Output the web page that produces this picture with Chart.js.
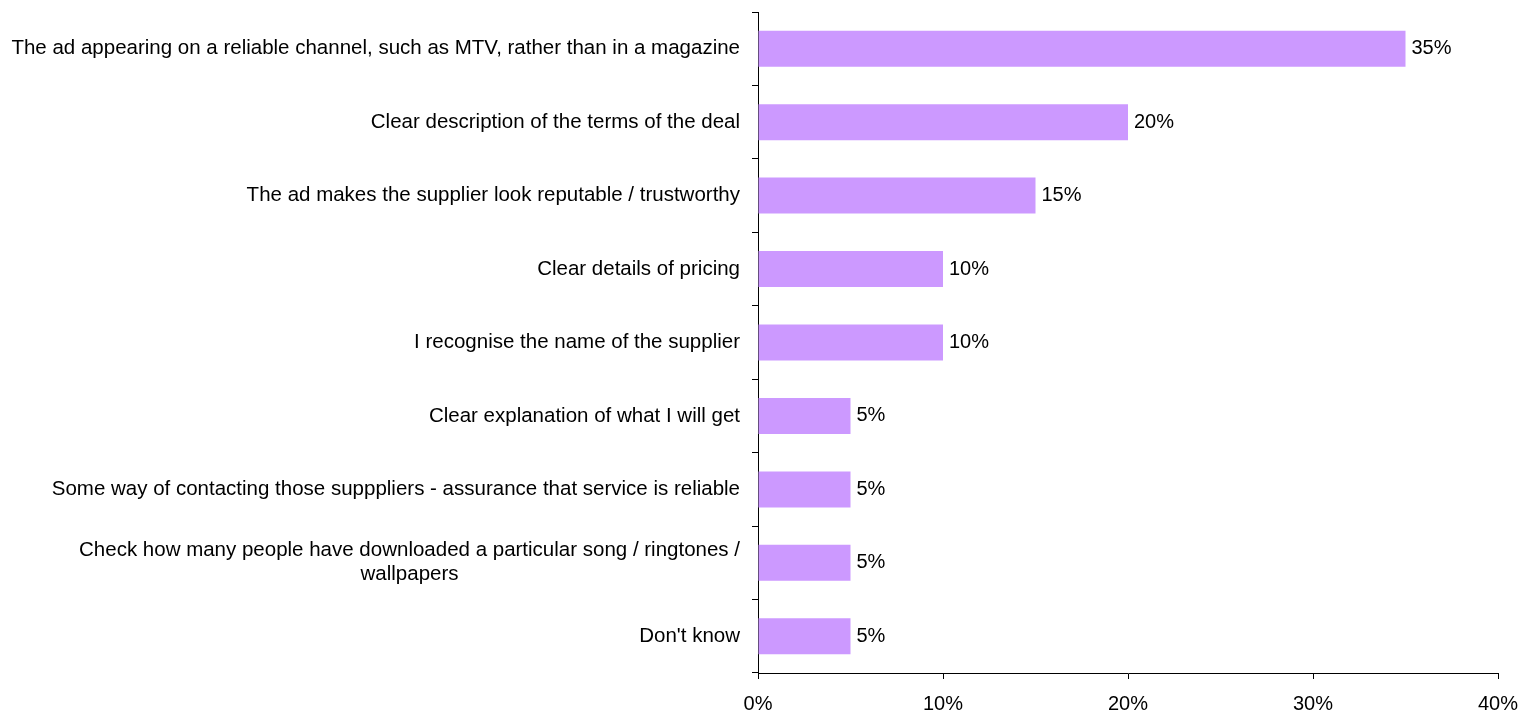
<!DOCTYPE html>
<html><head><meta charset="utf-8">
<script src="https://cdn.jsdelivr.net/npm/chart.js@4/dist/chart.umd.min.js"></script>
<style>html,body{margin:0;padding:0;background:#fff}#wrap{width:1522px;height:713px}</style>
</head><body><div id="wrap"><canvas id="c" width="1522" height="713"></canvas></div>
<script>
const categories = [
  ["The ad appearing on a reliable channel, such as MTV, rather than in a magazine"],
  ["Clear description of the terms of the deal"],
  ["The ad makes the supplier look reputable / trustworthy"],
  ["Clear details of pricing"],
  ["I recognise the name of the supplier"],
  ["Clear explanation of what I will get"],
  ["Some way of contacting those supppliers - assurance that service is reliable"],
  ["Check how many people have downloaded a particular song / ringtones /", "wallpapers"],
  ["Don't know"]
];
const values = [35, 20, 15, 10, 10, 5, 5, 5, 5];
const xTicks = [0, 10, 20, 30, 40];

const FONT = '"Liberation Sans", Arial, sans-serif';
const AXIS_X = 758;

const labelPlugin = {
  id: 'labels',
  afterDraw(chart) {
    const ctx = chart.ctx;
    const y = chart.scales.y;
    ctx.save();
    ctx.fillStyle = '#000';
    ctx.font = '20.5px ' + FONT;
    ctx.textBaseline = 'middle';
    categories.forEach((lines, i) => {
      const cy = y.getPixelForValue(i);
      const lh = 24;
      const widths = lines.map(l => ctx.measureText(l).width);
      const maxW = Math.max(...widths);
      const right = 740;
      lines.forEach((l, k) => {
        const ly = cy + (k - (lines.length - 1) / 2) * lh;
        const lx = right - maxW / 2 - widths[k] / 2;
        ctx.textAlign = 'left';
        ctx.fillText(l, lx, ly);
      });
    });
    ctx.font = '20px ' + FONT;
    const meta = chart.getDatasetMeta(0);
    meta.data.forEach((bar, i) => {
      ctx.textAlign = 'left';
      ctx.fillText(values[i] + '%', bar.x + 6, bar.y);
    });
    ctx.restore();
  }
};

new Chart(document.getElementById('c'), {
  type: 'bar',
  data: {
    labels: categories.map(c => c.join(' ')),
    datasets: [{
      data: values,
      backgroundColor: '#CC99FF',
      borderWidth: 0,
      barPercentage: 0.49,
      categoryPercentage: 1
    }]
  },
  options: {
    indexAxis: 'y',
    responsive: false,
    animation: false,
    layout: { padding: { top: 12, right: 24, left: 0, bottom: 0 } },
    plugins: { legend: { display: false }, tooltip: { enabled: false } },
    scales: {
      x: {
        min: 0, max: 40,
        afterBuildTicks(s) { s.ticks = xTicks.map(v => ({ value: v })); },
        afterFit(s) { s.height = 40; s.paddingRight = 0; s.paddingLeft = 0; },
        ticks: {
          callback: v => v + '%',
          color: '#000',
          font: { family: FONT, size: 20 },
          padding: 13,
          maxRotation: 0
        },
        grid: { drawOnChartArea: false, tickLength: 6, color: '#000', lineWidth: 1 },
        border: { color: '#000', width: 1 }
      },
      y: {
        afterFit(s) { s.width = AXIS_X; },
        ticks: { display: false },
        grid: { drawOnChartArea: false, tickLength: 6, color: '#000', lineWidth: 1, offset: true },
        border: { color: '#000', width: 1 }
      }
    }
  },
  plugins: [labelPlugin]
});
</script>
</body></html>
